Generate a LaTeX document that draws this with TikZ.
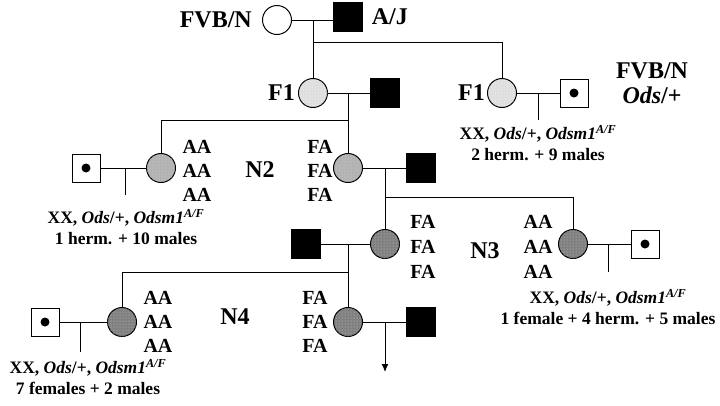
\documentclass[tikz,border=0pt]{standalone}
\usepackage{fontspec}
\setmainfont{Liberation Serif}
\usetikzlibrary{positioning,patterns,arrows.meta}

\tikzset{
  fem/.style={circle, draw, line width=1pt, minimum size=29pt, inner sep=0pt},
  mal/.style={rectangle, draw, fill=black, minimum size=29pt, inner sep=0pt},
  carrier/.style={rectangle, draw, line width=1pt, minimum size=28pt, inner sep=0pt,
    path picture={\fill (path picture bounding box.center) circle (4.5pt);}},
  fone/.style={fem, fill=black!13, postaction={pattern=dots, pattern color=white}},
  ntwo/.style={fem, fill=black!30, postaction={pattern=dots, pattern color=white!85!black}},
  nthree/.style={fem, fill=black!50, postaction={pattern=dots, pattern color=white!80!black}},
  geno/.style={font=\fontsize{20}{22}\selectfont\bfseries, inner sep=0pt},
  gen/.style={font=\fontsize{24}{26}\selectfont\bfseries, inner sep=0pt},
  offs/.style={font=\fontsize{17.5}{21}\selectfont\bfseries, inner sep=0pt, align=center},
  link/.style={line width=1pt}
}
\newcommand{\oddgeno}{XX, \textit{Ods}/+, \textit{Odsm1}\textsuperscript{\textit{A/F}}}

\begin{document}
\begin{tikzpicture}[x=1pt, y=-1pt]
        \useasboundingbox (0,0) rectangle (720,405);

        %% parents
        \node (P0) [fem] at (277, 20) {};
        \node (A0) [mal] at (348, 17) {};
        \node (fvb) [gen, left=10pt of P0] {FVB/N};
        \node (aj) [gen, right=9pt of A0] {A/J};
        \coordinate (m0) at (313, 20);
        \coordinate (s0) at (313, 42);

        %% F1
        \node (F1a) [fone] at (313, 93) {};
        \node (M1) [mal] at (385, 93) {};
        \node (F1b) [fone] at (502, 93) {};
        \node (D1) [carrier] at (574, 93) {};
        \node (lf1a) [gen, left=3pt of F1a] {F1};
        \node (lf1b) [gen, left=2pt of F1b] {F1};
        \node (fvb2) [gen] at (652, 71) {FVB/N};
        \node (ods) [gen] at (652, 95) {\textit{Ods}/+};
        \coordinate (m1) at (348, 93);
        \coordinate (s1) at (348, 120);
        \coordinate (m2) at (538, 93);
        \coordinate (e2) at (538, 120);
        \node (o2) [offs] at (538, 143) {\oddgeno\\2 herm. + 9 males};

        %% N2
        \node (D2) [carrier] at (86, 168) {};
        \node (N2a) [ntwo] at (161, 168) {};
        \node (N2b) [ntwo] at (348, 168) {};
        \node (M2) [mal] at (421, 168) {};
        \node (n2) [gen] at (260, 170) {N2};
        \foreach \k/\y in {1/147, 2/171, 3/195} {
          \node (aa2\k) [geno] at (197, \y) {AA};
          \node (fa2\k) [geno] at (320, \y) {FA};
        }
        \coordinate (m3) at (125, 168);
        \coordinate (e3) at (125, 195);
        \node (o3) [offs] at (126, 227) {\oddgeno\\1 herm. + 10 males};
        \coordinate (m4) at (385, 168);
        \coordinate (s4) at (385, 197);

        %% N3
        \node (M3) [mal] at (306, 244) {};
        \node (N3a) [nthree] at (385, 244) {};
        \node (N3b) [nthree] at (573, 244) {};
        \node (D3) [carrier] at (645, 244) {};
        \node (n3) [gen] at (485, 251) {N3};
        \foreach \k/\y in {1/222, 2/247, 3/272} {
          \node (fa3\k) [geno] at (423, \y) {FA};
          \node (aa3\k) [geno] at (538, \y) {AA};
        }
        \coordinate (m5) at (348, 244);
        \coordinate (s5) at (348, 272);
        \coordinate (m6) at (608, 244);
        \coordinate (e6) at (608, 272);
        \node (o6) [offs] at (608, 307) {\oddgeno\\1 female + 4 herm. + 5 males};

        %% N4
        \node (D4) [carrier] at (45, 322) {};
        \node (N4a) [nthree] at (122, 322) {};
        \node (N4b) [nthree] at (348, 322) {};
        \node (M4) [mal] at (421, 322) {};
        \node (n4) [gen] at (235, 317) {N4};
        \foreach \k/\y in {1/298, 2/322, 3/346} {
          \node (aa4\k) [geno] at (158, \y) {AA};
          \node (fa4\k) [geno] at (315, \y) {FA};
        }
        \coordinate (m7) at (80, 322);
        \coordinate (e7) at (80, 352);
        \node (o7) [offs] at (88, 377) {\oddgeno\\7 females + 2 males};
        \coordinate (m8) at (385, 322);
        \coordinate (e8) at (385, 372);

        \draw[link] (P0.east) -- (A0.west |- P0.east);
        \draw[link] (m0) -- (F1a.north);
        \draw[link] (s0) -| (F1b.north);
        \draw[link] (F1a.east) -- (M1.west);
        \draw[link] (m1) -- (N2b.north);
        \draw[link] (s1) -| (N2a.north);
        \draw[link] (F1b.east) -- (D1.west);
        \draw[link] (m2) -- (e2);
        \draw[link] (D2.east) -- (N2a.west);
        \draw[link] (m3) -- (e3);
        \draw[link] (N2b.east) -- (M2.west);
        \draw[link] (m4) -- (N3a.north);
        \draw[link] (s4) -| (N3b.north);
        \draw[link] (M3.east) -- (N3a.west);
        \draw[link] (m5) -- (N4b.north);
        \draw[link] (s5) -| (N4a.north);
        \draw[link] (N3b.east) -- (D3.west);
        \draw[link] (m6) -- (e6);
        \draw[link] (D4.east) -- (N4a.west);
        \draw[link] (m7) -- (e7);
        \draw[link] (N4b.east) -- (M4.west);
        \draw[link, -{Latex[length=8pt, width=7pt]}] (m8) -- (e8);
      \end{tikzpicture}
\end{document}
